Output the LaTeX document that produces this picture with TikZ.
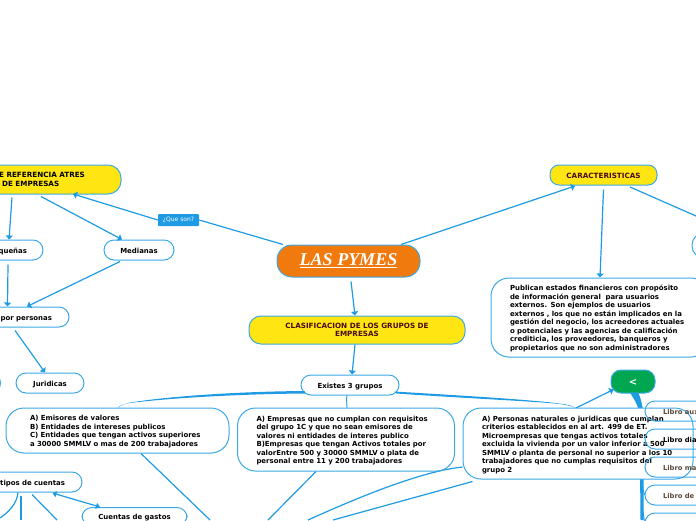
\documentclass[tikz,border=0pt]{standalone}
\usepackage{fontspec}
\setmainfont{DejaVu Sans}
\newfontfamily\titlefont{Liberation Serif}
\usetikzlibrary{arrows.meta,calc}
\definecolor{wire}{HTML}{1E9BE2}
\definecolor{edgeblue}{HTML}{3BA9E8}
\definecolor{sunny}{HTML}{FFE512}
\definecolor{maroon}{HTML}{4A0A14}
\definecolor{pumpkin}{HTML}{F07A0E}
\definecolor{leaf}{HTML}{00A650}
\definecolor{umber}{HTML}{5A4A3A}
\newcommand{\lift}{\rule{0pt}{7.5pt}}
\tikzset{
  x=1pt,y=-1pt,
  pill/.style={draw=edgeblue,line width=1pt,rounded corners=10pt,fill=white,inner sep=0pt,font=\fontsize{6.95}{8.5}\selectfont\bfseries,text=black,execute at begin node=\lift},
  bigbox/.style={pill,rounded corners=18pt,align=left},
  yellowbox/.style={pill,fill=sunny,text=maroon,align=center,rounded corners=12pt,font=\fontsize{7.2}{8.5}\selectfont\bfseries},
  openbox/.style={pill,fill=none,align=left},
  ledger/.style={openbox,minimum width=140pt,minimum height=20pt,text width=104pt,inner xsep=18pt,font=\fontsize{6.8}{8.5}\selectfont\bfseries},
  wireline/.style={draw=wire,line width=1.2pt},
  arrowline/.style={wireline,-{Triangle[width=7pt,length=4pt]}},
  bothline/.style={wireline,{Triangle[width=6pt,length=4pt]}-{Triangle[width=6pt,length=4pt]}},
  tag/.style={fill=wire,text=white,inner sep=0pt,minimum width=41pt,minimum height=12pt,rounded corners=1pt,font=\fontsize{6}{7}\selectfont}
}
\begin{document}
\begin{tikzpicture}
\useasboundingbox (0,0) rectangle (696,520);
\clip (0,0) rectangle (696,520);

% nodes that carry the connectors
\node[pill,fill=pumpkin,draw=edgeblue,minimum width=143pt,minimum height=32pt,rounded corners=15pt,text=white] (title) at (348.5,261)
  {\raisebox{-2.5pt}{\titlefont\fontsize{18}{20}\selectfont\bfseries\itshape\underline{LAS PYMES}}};
\node[yellowbox,minimum width=158pt,minimum height=29pt,align=left,rounded corners=13pt,text=black] (refs) at (42,179.5)
  {E REFERENCIA ATRES\\[0pt]\hspace*{3pt}DE EMPRESAS};
\node[yellowbox,minimum width=216pt,minimum height=28pt] (clas) at (357,330)
  {CLASIFICACION DE LOS GRUPOS DE\\EMPRESAS};
\node[yellowbox,minimum width=107pt,minimum height=20pt,rounded corners=9pt] (cara) at (603.5,175) {CARACTERISTICAS};
\node[pill,minimum width=98pt,minimum height=20pt] (exis) at (350,385) {Existes 3 grupos};
\node[pill,minimum width=70pt,minimum height=20pt] (medi) at (139,250) {Medianas};
\node[pill,minimum width=85pt,minimum height=20pt,text width=65pt,align=right,inner xsep=10pt] (pequ) at (0.5,250) {\hfill que\~nas\hspace*{6pt}};
\node[pill,minimum width=100pt,minimum height=20pt,align=right,text width=84pt,inner xsep=8pt] (pers) at (19,317) {\hfill por personas\hspace*{9pt}};
\node[pill,minimum width=68pt,minimum height=20pt] (juri) at (50,383) {Juridicas};
\node[pill,minimum width=40pt,minimum height=20pt] (neig) at (-19.5,383) {};
\node[pill,minimum width=70pt,minimum height=25pt,rounded corners=12pt] (rght) at (727,245.5) {};
\node[bigbox,minimum height=79pt,text width=180pt,inner xsep=19pt] (publ) at (600,317.5)
  {Publican estados financieros con prop\'osito\\
   de informaci\'on general\ \ para usuarios\\
   externos. Son ejemplos de usuarios\\
   externos , los que no est\'an implicados en la\\
   gesti\'on del negocio, los acreedores actuales\\
   o potenciales y las agencias de calificaci\'on\\
   crediticia, los proveedores, banqueros y\\
   propietarios que no son administradores};
\node[pill,fill=leaf,draw=edgeblue,minimum width=44pt,minimum height=23pt,text=white,font=\fontsize{10}{12}\selectfont\bfseries] (gree) at (633,381.5) {<};
\node[pill,minimum width=105pt,minimum height=18pt,rounded corners=10pt,anchor=north] (gast) at (134.5,507) {Cuentas de gastos};
\node[pill,minimum width=110pt,minimum height=20pt,align=right,text width=96pt,inner xsep=7pt] (tipo) at (27,482) {\hfill tipos de cuentas\hspace*{10pt}};
\node[tag] (qson) at (178.5,220) {¿Que son?};

\coordinate (endA) at (210,520);
\coordinate (endB) at (268,520);
\coordinate (endC) at (308,520);
\coordinate (endD) at (333,520);
\coordinate (endE) at (57,520);
\coordinate (endF) at (21,520);
\coordinate (endG) at (0,518);

% tapered trunks
\fill[wire] ([xshift=5pt,yshift=2pt]exis.south west) .. controls (240,394) and (170,398) .. (130,403) .. controls (122,404) and (119,406) .. (118,408) .. controls (120,405.5) and (125,403.5) .. (130,402.6) .. controls (170,396) and (240,391.5) .. ([xshift=4pt,yshift=4.5pt]exis.south west) -- cycle;
\fill[wire] ([xshift=-3pt,yshift=2pt]exis.south east) .. controls (460,398) and (530,401) .. (560,404) .. controls (566,405) and (572,406) .. (576,408) .. controls (572,405.5) and (566,404.2) .. (560,403.6) .. controls (530,399.5) and (460,395.5) .. ([xshift=-5pt,yshift=4pt]exis.south east) -- cycle;
\draw[wireline,line width=0.9pt] ([xshift=-3pt]exis.south) .. controls +(-1,5) and (347,402) .. (347,408);

% connectors
\draw[wireline] ([xshift=-65.5pt]title.north) -- (qson.east);
\draw[arrowline] (qson.west) -- ([xshift=31pt,yshift=0.5pt]refs.south);
\draw[arrowline] ([xshift=-30pt,yshift=-3pt]refs.south) -- ([xshift=8.5pt]pequ.north);
\draw[arrowline] ([xshift=-1pt,yshift=-2pt]refs.south) -- ([xshift=-17pt]medi.north);
\draw[arrowline] ([xshift=7.5pt,yshift=-4pt]pequ.south) -- ([xshift=-11.5pt]pers.north);
\draw[arrowline] ([xshift=-19pt,yshift=-1pt]medi.south) -- ([xshift=8pt]pers.north);
\draw[arrowline] ([xshift=-4pt,yshift=-3pt]pers.south) -- ([xshift=-5pt]juri.north);
\draw[arrowline] ([xshift=2.5pt,yshift=-4pt]title.south) -- ([xshift=-2pt]clas.north);
\draw[arrowline] ([xshift=-2pt]clas.south) -- ([xshift=2pt]exis.north);
\draw[arrowline] ([xshift=52.5pt]title.north) -- ([xshift=-28.5pt,yshift=-0.5pt]cara.south);
\draw[arrowline] ([yshift=-4pt]cara.south) -- (publ.north);
\coordinate (rcut) at (696,216);
\draw[wireline] ([xshift=26.5pt,yshift=-1.5pt]cara.south) -- (rcut);
\coordinate (cgate) at (576,408);
\draw[arrowline] (cgate) -- ([xshift=3pt,yshift=4pt]gree.south west);

\node[bigbox,minimum height=45pt,text width=175pt,inner xsep=24pt] (grpa) at (117.5,430.5)
  {A) Emisores de valores\\
   B) Entidades de intereses publicos\\
   C) Entidades que tengan activos superiores\\
   a 30000 SMMLV o mas de 200 trabajadores};
\draw[wireline] ([xshift=23.5pt]grpa.south) -- (endA);

% trunk on the right, behind group C
\fill[wire] ([xshift=-3pt,yshift=1pt]gree.south) .. controls (633,398) and (638,404) .. (639.5,414) -- (640.5,520) -- (643.5,520) -- (643.5,414) .. controls (642,402) and (640,396) .. ([xshift=5pt,yshift=1pt]gree.south) -- cycle;

\node[bigbox,minimum height=71pt,text width=192pt,inner xsep=19pt] (grpc) at (578,443.5)
  {A) Personas naturales o juridicas que cumplan\\
   criterios establecidos en al art. 499 de ET.\\
   Microempresas que tengas activos totales\\
   excluida la vivienda por un valor inferior a 500\\
   SMMLV o planta de personal no superior a los 10\\
   trabajadores que no cumplas requisitos del\\
   grupo 2};
\draw[wireline] ([yshift=12.5pt]grpc.south west) .. controls (425,471) and (370,492) .. (endC);
\draw[wireline] ([xshift=10pt,yshift=-2pt]grpc.south west) -- (endD);

\node[bigbox,minimum height=63pt,text width=179pt,inner xsep=19pt] (grpb) at (346,439.5)
  {A) Empresas que no cumplan con requisitos\\
   del grupo 1C y que no sean emisores de\\
   valores ni entidades de interes publico\\
   B)Empresas que tengan Activos totales por\\
   valorEntre 500 y 30000 SMMLV o plata de\\
   personal entre 11 y 200 trabajadores};
\draw[wireline] ([xshift=-30pt]grpb.south) -- (endB);

% ledgers on the right
\node[ledger,text=umber] (lib1) at (715,411) {Libro aux};
\node[ledger] (lib2) at (715,439) {Libro dia};
\node[ledger,text=umber] (lib3) at (715,467) {Libro ma};
\node[ledger,text=umber] (lib4) at (715,495) {Libro de};
\node[openbox,minimum width=140pt,minimum height=20pt] (lib5) at (715,523) {};
\coordinate (trunkA) at (642,483);
\coordinate (trunkB) at (642,506);
\draw[wireline,line width=0.9pt] (trunkA) .. controls (643,490) and (644,493) .. (lib4.west);
\draw[wireline,line width=0.9pt] (trunkB) .. controls (643,512) and (644,517) .. (lib5.west);

% lower left
\draw[bothline] ([xshift=25.5pt,yshift=-0.5pt]tipo.south) -- ([xshift=-34.5pt]gast.north);
\draw[wireline] ([xshift=5pt,yshift=-2pt]tipo.south) -- (endE);
\draw[wireline] ([xshift=-6pt,yshift=-3pt]tipo.south) -- (endF);
\draw[wireline] ([xshift=-9pt]tipo.south) .. controls (17,503) and (10,511) .. (endG);
\end{tikzpicture}
\end{document}
